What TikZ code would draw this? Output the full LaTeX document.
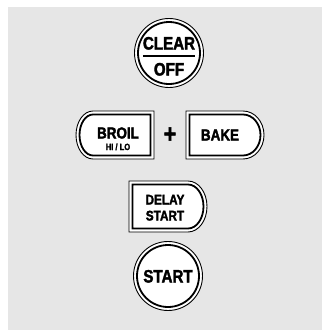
\documentclass[tikz,border=0pt]{standalone}
\usepackage{fontspec}
\newfontfamily\cond{Liberation Sans}[FakeStretch=0.84, FakeBold=2]
\definecolor{bggray}{RGB}{230,230,230}
\tikzset{
  outerline/.style={draw=black, line width=0.9pt, fill=white},
  innerline/.style={draw=black, line width=1.8pt, fill=white},
  lbl/.style={inner sep=0pt, anchor=base, font=\cond\bfseries},
}
\begin{document}
\begin{tikzpicture}[x=1pt,y=1pt]
\useasboundingbox (0,0) rectangle (322,-330);
\fill[white] (0,0) rectangle (322,-330);
\fill[bggray] (8,-7) rectangle (322,-330);
% CLEAR / OFF
\draw[outerline] (169,-53) circle[radius=34.5pt];
\draw[innerline] (169,-53) circle[radius=31pt];
\node[lbl, font=\cond\bfseries\fontsize{18}{18}\selectfont] (clear) at (169,-49.5) {CLEAR};
\node[lbl, font=\cond\bfseries\fontsize{18}{18}\selectfont] (off) at (169,-75.5) {OFF};
\draw[line width=2pt] ([yshift=-6pt]clear.base west) -- ([yshift=-6pt]clear.base east);
% BROIL
\draw[outerline] (154,-111) -- (93,-111) arc[start angle=90,end angle=270,x radius=17pt,y radius=24pt] -- (154,-159) -- cycle;
\draw[innerline] (150.5,-114.5) -- (93,-114.5) arc[start angle=90,end angle=270,x radius=13.5pt,y radius=20.5pt] -- (150.5,-155.5) -- cycle;
\node[lbl, font=\cond\bfseries\fontsize{16}{16}\selectfont] (broil) at (118,-138.5) {BROIL};
\node[lbl, font=\cond\bfseries\fontsize{9}{9}\selectfont] (hilo) at (118,-150) {HI / LO};
% plus
\node[inner sep=0pt, font=\cond\bfseries\fontsize{26}{26}\selectfont] (plus) at (170,-135) {+};
% BAKE
\draw[outerline] (186,-111) -- (243,-111) arc[start angle=90,end angle=-90,x radius=21pt,y radius=24pt] -- (186,-159) -- cycle;
\draw[innerline] (189.5,-114.5) -- (243,-114.5) arc[start angle=90,end angle=-90,x radius=17.5pt,y radius=20.5pt] -- (189.5,-155.5) -- cycle;
\node[lbl, font=\cond\bfseries\fontsize{16}{16}\selectfont] (bake) at (220,-140.5) {BAKE};
% DELAY START
\draw[outerline] (129,-181) -- (188,-181) arc[start angle=90,end angle=-90,x radius=19pt,y radius=25.5pt] -- (129,-232) -- cycle;
\draw[innerline] (132.5,-184.5) -- (188,-184.5) arc[start angle=90,end angle=-90,x radius=15.5pt,y radius=22pt] -- (132.5,-228.5) -- cycle;
\node[lbl, font=\cond\bfseries\fontsize{14}{14}\selectfont] (delay) at (165,-204.5) {DELAY};
\node[lbl, font=\cond\bfseries\fontsize{14}{14}\selectfont] (dstart) at (165,-220.5) {START};
% START
\draw[outerline] (168,-276) circle[radius=34.5pt];
\draw[innerline] (168,-276) circle[radius=31pt];
\node[lbl, font=\cond\bfseries\fontsize{18}{18}\selectfont] (start) at (168,-282.5) {START};
\end{tikzpicture}
\end{document}
